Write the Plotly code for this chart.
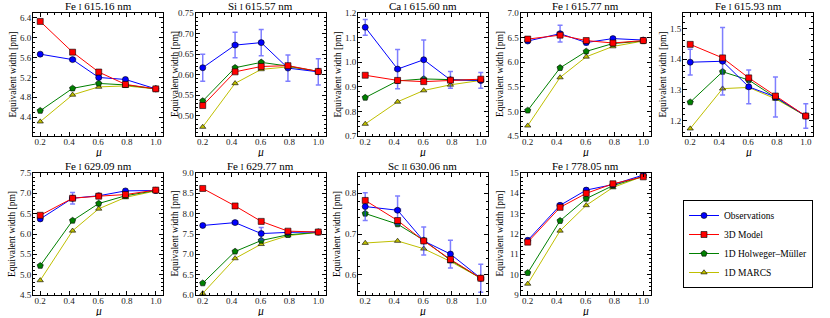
import plotly.graph_objects as go

# ---------------- data ----------------
mu = [0.2, 0.424, 0.605, 0.79, 1.0]

titles = [
    "Fe <span style='font-size:8px'>I</span> 615.16 nm",
    "Si <span style='font-size:8px'>I</span> 615.57 nm",
    "Ca <span style='font-size:8px'>I</span> 615.60 nm",
    "Fe <span style='font-size:8px'>I</span> 615.77 nm",
    "Fe <span style='font-size:8px'>I</span> 615.93 nm",
    "Fe <span style='font-size:8px'>I</span> 629.09 nm",
    "Fe <span style='font-size:8px'>I</span> 629.77 nm",
    "Sc <span style='font-size:8px'>II</span> 630.06 nm",
    "Fe <span style='font-size:8px'>I</span> 778.05 nm",
]

observations = [
    [5.67, 5.56, 5.20, 5.16, 4.97],
    [0.617, 0.672, 0.678, 0.616, 0.607],
    [1.142, 0.972, 1.010, 0.928, 0.926],
    [6.43, 6.58, 6.40, 6.48, 6.45],
    [1.390, 1.393, 1.310, 1.277, 1.215],
    [6.37, 6.88, 6.94, 7.06, 7.07],
    [7.71, 7.78, 7.51, 7.54, 7.55],
    [0.767, 0.758, 0.683, 0.651, 0.592],
    [11.69, 13.41, 14.16, 14.43, 14.90],
]
obs_err = [
    [0.03, 0.03, 0.04, 0.03, 0.02],
    [0.033, 0.031, 0.032, 0.032, 0.032],
    [0.032, 0.080, 0.080, 0.034, 0.032],
    [0.03, 0.17, 0.05, 0.03, 0.03],
    [0.042, 0.110, 0.055, 0.065, 0.040],
    [0.04, 0.14, 0.04, 0.04, 0.04],
    [0.04, 0.04, 0.15, 0.04, 0.04],
    [0.034, 0.035, 0.034, 0.034, 0.034],
    [0.10, 0.10, 0.10, 0.08, 0.08],
]
obs_xerr = [0.005, 0.02, 0.015, 0.01, 0.005]

model_3d = [
    [6.33, 5.71, 5.31, 5.06, 4.97],
    [0.525, 0.607, 0.620, 0.622, 0.608],
    [0.947, 0.926, 0.921, 0.927, 0.931],
    [6.47, 6.55, 6.44, 6.39, 6.44],
    [1.448, 1.404, 1.339, 1.280, 1.215],
    [6.46, 6.88, 6.93, 6.97, 7.08],
    [8.62, 8.19, 7.81, 7.57, 7.55],
    [0.782, 0.733, 0.683, 0.638, 0.592],
    [11.60, 13.31, 14.00, 14.47, 14.81],
]
holweger_muller = [
    [4.53, 4.98, 5.08, 5.05, 4.97],
    [0.536, 0.617, 0.630, 0.621, 0.608],
    [0.856, 0.924, 0.932, 0.928, 0.926],
    [5.02, 5.885, 6.22, 6.38, 6.43],
    [1.260, 1.359, 1.332, 1.275, 1.215],
    [5.22, 6.33, 6.75, 6.94, 7.07],
    [6.29, 7.07, 7.34, 7.48, 7.54],
    [0.750, 0.724, 0.685, 0.636, 0.592],
    [10.09, 12.65, 13.74, 14.38, 14.84],
]
marcs = [
    [4.31, 4.85, 5.01, 5.03, 4.97],
    [0.473, 0.579, 0.613, 0.619, 0.608],
    [0.749, 0.839, 0.885, 0.908, 0.926],
    [4.71, 5.69, 6.11, 6.32, 6.43],
    [1.174, 1.304, 1.308, 1.271, 1.215],
    [4.86, 6.08, 6.62, 6.90, 7.06],
    [6.04, 6.90, 7.25, 7.46, 7.54],
    [0.678, 0.683, 0.664, 0.633, 0.592],
    [9.55, 12.16, 13.41, 14.29, 14.84],
]

x_ticks = [0.2, 0.4, 0.6, 0.8, 1.0]
y_ticks = [
    [4.4, 4.8, 5.2, 5.6, 6.0, 6.4],
    [0.50, 0.55, 0.60, 0.65, 0.70, 0.75],
    [0.7, 0.8, 0.9, 1.0, 1.1, 1.2],
    [4.5, 5.0, 5.5, 6.0, 6.5, 7.0],
    [1.2, 1.3, 1.4, 1.5],
    [4.5, 5.0, 5.5, 6.0, 6.5, 7.0, 7.5],
    [6.0, 6.5, 7.0, 7.5, 8.0, 8.5, 9.0],
    [0.6, 0.7, 0.8],
    [9, 10, 11, 12, 13, 14, 15],
]

# ---------------- style / layout ----------------
y_ranges = [
    [4.02, 6.5], [0.451, 0.75], [0.7, 1.2], [4.5, 7.0], [1.15, 1.55],
    [4.5, 7.5], [6.0, 9.0], [0.551, 0.849], [9, 15],
]
y_fmt = [".1f", ".2f", ".1f", ".1f", ".1f", ".1f", ".1f", ".1f", "d"]
y_minor = [0.1, 0.01, 0.02, 0.1, 0.02, 0.1, 0.1, 0.02, 0.2]

W, H = 830, 318
col_left = [33, 195.5, 358, 520.5, 683]
pw = 130
rows = [(13, 136), (173, 295)]
FONT = "Liberation Serif"

BLUE, RED, GREEN, YEL = "#0000ff", "#ff0000", "#008000", "#bfbf00"

fig = go.Figure()
layout = {}
annotations = []

for i in range(9):
    r, c = divmod(i, 5)
    k = i + 1
    xs = "" if k == 1 else str(k)
    x0, x1 = col_left[c], col_left[c] + pw
    top, bot = rows[r]
    xd = [x0 / W, x1 / W]
    yd = [1 - bot / H, 1 - top / H]
    common = dict(
        showline=True, linecolor="black", linewidth=1, mirror="allticks",
        ticks="inside", ticklen=4, tickwidth=0.8, tickcolor="black",
        showgrid=False, zeroline=False, automargin=False,
        tickfont=dict(family=FONT, size=9, color="#222"),
    )
    layout["xaxis" + xs] = dict(
        domain=xd, anchor="y" + xs, range=[0.15, 1.05],
        tickvals=x_ticks, tickformat=".1f", ticklabelstandoff=-3,
        minor=dict(ticks="inside", ticklen=2, tickcolor="black", dtick=0.05, showgrid=False),
        **common)
    layout["yaxis" + xs] = dict(
        domain=yd, anchor="x" + xs, range=y_ranges[i],
        tickvals=y_ticks[i], tickformat=y_fmt[i], ticklabelstandoff=-1,
        minor=dict(ticks="inside", ticklen=2, tickcolor="black", dtick=y_minor[i], showgrid=False),
        **common)

    show = i == 0
    mk_line = dict(color="black", width=0.6)
    fig.add_trace(go.Scatter(
        x=mu, y=marcs[i], mode="lines+markers", name="1D MARCS",
        line=dict(color=YEL, width=1),
        marker=dict(symbol="triangle-up", size=5.5, color=YEL, line=mk_line),
        xaxis="x" + xs, yaxis="y" + xs, showlegend=show, legendrank=4, legendgroup="m"))
    fig.add_trace(go.Scatter(
        x=mu, y=holweger_muller[i], mode="lines+markers", name="1D Holweger–Müller",
        line=dict(color=GREEN, width=1),
        marker=dict(symbol="pentagon", size=6.5, color=GREEN, line=mk_line),
        xaxis="x" + xs, yaxis="y" + xs, showlegend=show, legendrank=3, legendgroup="h"))
    fig.add_trace(go.Scatter(
        x=mu, y=observations[i], mode="lines+markers", name="Observations",
        line=dict(color=BLUE, width=1),
        marker=dict(symbol="circle", size=6, color=BLUE, line=mk_line),
        error_y=dict(type="data", array=obs_err[i], color="rgba(40,40,255,0.6)", thickness=1.5, width=2.5),
        error_x=dict(type="data", array=obs_xerr, color="rgba(40,40,255,0.5)", thickness=1.5, width=2),
        xaxis="x" + xs, yaxis="y" + xs, showlegend=show, legendrank=1, legendgroup="o"))
    fig.add_trace(go.Scatter(
        x=mu, y=model_3d[i], mode="lines+markers", name="3D Model",
        line=dict(color=RED, width=1),
        marker=dict(symbol="square", size=6, color=RED, line=mk_line),
        xaxis="x" + xs, yaxis="y" + xs, showlegend=show, legendrank=2, legendgroup="d"))

    cx = (x0 + x1) / 2 / W
    annotations.append(dict(
        text=titles[i], x=cx, y=1 - (top - 7) / H, xref="paper", yref="paper",
        showarrow=False, xanchor="center", yanchor="middle",
        font=dict(family=FONT, size=11, color="black")))
    annotations.append(dict(
        text="<i>μ</i>", x=cx, y=1 - (bot + 16) / H, xref="paper", yref="paper",
        showarrow=False, xanchor="center", yanchor="middle", height=10,
        borderpad=0,
        font=dict(family=FONT, size=11.5, color="black")))
    annotations.append(dict(
        text="Equivalent width [pm]", x=(x0 - 21) / W, y=(yd[0] + yd[1]) / 2,
        xref="paper", yref="paper", textangle=-90, showarrow=False,
        xanchor="center", yanchor="middle",
        font=dict(family=FONT, size=9.5, color="black")))

fig.update_layout(
    width=W, height=H, margin=dict(l=0, r=0, t=0, b=0, autoexpand=False),
    paper_bgcolor="white", plot_bgcolor="white",
    annotations=annotations,
    legend=dict(
        x=683 / W, y=1 - 200 / H, xanchor="left", yanchor="top",
        bordercolor="black", borderwidth=1, bgcolor="white",
        font=dict(family=FONT, size=9.5, color="black"),
        tracegroupgap=0, itemwidth=30,
    ),
    **layout,
)

fig.write_html(
    "out.html",
    config={"displayModeBar": False},
    post_script="document.body.style.margin='0';document.body.style.padding='0';",
)
